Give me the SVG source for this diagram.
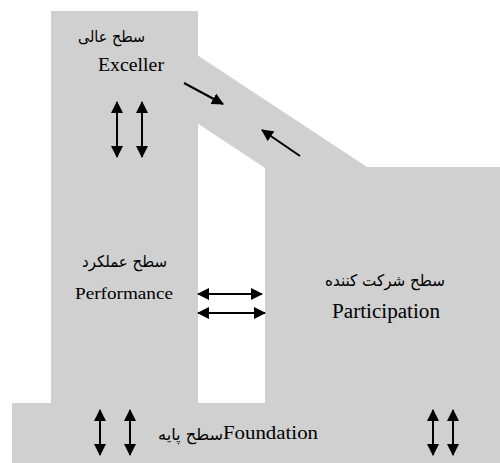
<svg xmlns="http://www.w3.org/2000/svg" width="500" height="463" viewBox="0 0 500 463">
<style>
.blk{fill:#d0d0d0;stroke:none}
.en{font-family:"Liberation Serif","DejaVu Serif",serif;fill:#000}
.fa{font-family:"DejaVu Sans","Liberation Serif",sans-serif;fill:#000}
.ar{stroke:#000;stroke-width:2;fill:none;marker-start:url(#h);marker-end:url(#h)}
.ar1{stroke:#000;stroke-width:2;fill:none;marker-end:url(#h)}
</style>
<defs>
<marker id="h" viewBox="0 0 12 12" refX="11" refY="6" markerWidth="12" markerHeight="12" markerUnits="userSpaceOnUse" orient="auto-start-reverse">
<path d="M0,0 L12,6 L0,12 Z" fill="#000"/>
</marker>
</defs>
<rect width="500" height="463" fill="#fff"/>
<g id="excel">
<rect class="blk" x="51" y="11" width="147" height="393"/>
<text class="fa" x="78" y="42" font-size="16" textLength="67" lengthAdjust="spacingAndGlyphs">سطح عالی</text>
<text class="en" x="98" y="71" font-size="18" textLength="66" lengthAdjust="spacingAndGlyphs">Exceller</text>
</g>
<g id="band">
<polygon class="blk" points="197,55 367,167 265,167 265,168 197,123"/>
</g>
<g id="participation">
<rect class="blk" x="265" y="167" width="235" height="237"/>
<text class="fa" x="325" y="286" font-size="16" textLength="120" lengthAdjust="spacingAndGlyphs">سطح شرکت کننده</text>
<text class="en" x="332" y="318" font-size="20.5" textLength="108" lengthAdjust="spacingAndGlyphs">Participation</text>
</g>
<g id="performance">
<text class="fa" x="82" y="267" font-size="16" textLength="85" lengthAdjust="spacingAndGlyphs">سطح عملکرد</text>
<text class="en" x="75" y="299" font-size="17.5" textLength="98" lengthAdjust="spacingAndGlyphs">Performance</text>
</g>
<g id="foundation">
<rect class="blk" x="12" y="403" width="488" height="60"/>
<text class="fa" x="158" y="440" font-size="16" textLength="65" lengthAdjust="spacingAndGlyphs">سطح پایه</text>
<text class="en" x="223" y="439" font-size="19.5" textLength="95" lengthAdjust="spacingAndGlyphs">Foundation</text>
</g>
<g id="connectors">
<line class="ar" x1="117" y1="102" x2="117" y2="157"/>
<line class="ar" x1="142" y1="102" x2="142" y2="157"/>
<line class="ar1" x1="184" y1="83" x2="223" y2="104"/>
<line class="ar1" x1="300" y1="156" x2="262" y2="130"/>
<line class="ar" x1="198" y1="294" x2="262" y2="294"/>
<line class="ar" x1="198" y1="313" x2="265" y2="313"/>
<line class="ar" x1="100" y1="410" x2="100" y2="455"/>
<line class="ar" x1="130" y1="410" x2="130" y2="455"/>
<line class="ar" x1="433" y1="410" x2="433" y2="455"/>
<line class="ar" x1="453" y1="410" x2="453" y2="455"/>
</g>
</svg>
